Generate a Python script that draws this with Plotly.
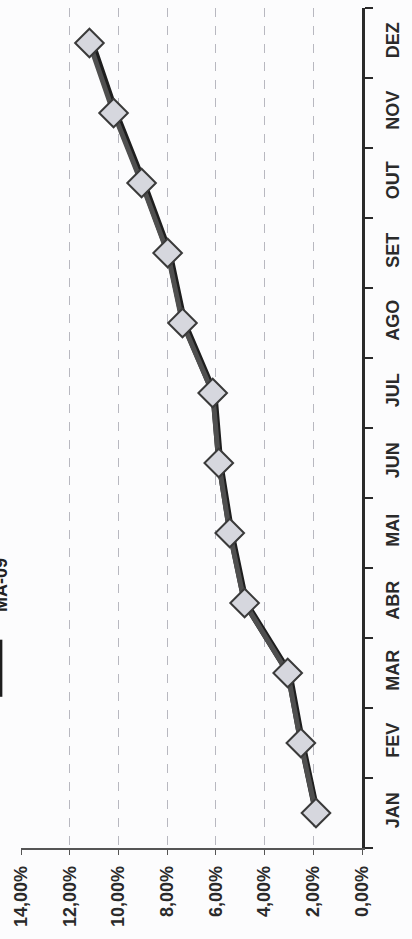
import plotly.graph_objects as go

months = ["JAN", "FEV", "MAR", "ABR", "MAI", "JUN", "JUL", "AGO", "SET", "OUT", "NOV", "DEZ"]
main_values = [0.0189, 0.0251, 0.0305, 0.0482, 0.0543, 0.0588, 0.0613, 0.0737, 0.0798, 0.0905, 0.1020, 0.1119]
ma09_values = [0.0186, 0.0247, 0.0300, 0.0478, 0.0538, 0.0584, 0.0608, 0.0731, 0.0792, 0.0898, 0.1012, 0.1110]
value_ticks = [0, 0.02, 0.04, 0.06, 0.08, 0.10, 0.12, 0.14]
legend_label = "MA-09"

FONT = "Liberation Sans, Arial, sans-serif"

fig = go.Figure()
fig.add_trace(go.Scatter(
    x=ma09_values, y=months, mode="lines", name=legend_label,
    line=dict(color="#1e1e1e", width=7),
))
fig.add_trace(go.Scatter(
    x=main_values, y=months, mode="lines+markers", name="main",
    line=dict(color="#4f4f4f", width=5),
    marker=dict(symbol="diamond", size=22, color="#d6d7de",
                line=dict(color="#3a3a3a", width=2)),
))

fig.update_layout(
    width=412, height=939,
    margin=dict(l=21, r=50, t=8, b=91),
    paper_bgcolor="#fcfcfd", plot_bgcolor="#fcfcfd",
    showlegend=False,
    separators=",.",
    font=dict(family=FONT, color="#222222"),
    xaxis=dict(
        range=[0.14, 0], tickvals=value_ticks, tickformat=".2%",
        tickangle=-90, tickfont=dict(size=18, family=FONT, color="#2a2a2a", weight="bold"),
        showgrid=True, gridcolor="#b8b8c0", griddash="dash", gridwidth=1,
        showline=True, linecolor="#555555", linewidth=1.5,
        ticks="outside", ticklen=5, tickcolor="#555555",
        ticklabelstandoff=4,
        zeroline=False,
    ),
    yaxis=dict(
        type="category", categoryorder="array", categoryarray=months,
        range=[-0.5, 11.5], side="right",
        tickangle=-90, tickfont=dict(size=18, family=FONT, color="#2a2a2a", weight="bold"),
        showgrid=False, zeroline=False,
        showline=True, linecolor="#2a2a2a", linewidth=3,
        ticks="outside", ticklen=8, tickwidth=2, tickcolor="#2a2a2a",
        tickson="boundaries", ticklabelstandoff=12,
    ),
)

# partially visible legend at the left edge (cut off in the reference too)
fig.add_annotation(
    xref="paper", yref="paper", x=0, y=0.313, xanchor="center", yanchor="middle",
    xshift=-20, yshift=0, text=legend_label, textangle=-90, showarrow=False,
    font=dict(size=18, family=FONT, color="#222", weight="bold"),
)
fig.add_shape(type="line", xref="paper", yref="paper",
              x0=-0.062, x1=-0.062, y0=0.18, y1=0.248,
              line=dict(color="#1e1e1e", width=5))

fig.write_html("out.html", config={"displayModeBar": False},
               post_script="document.body.style.margin='0';")
